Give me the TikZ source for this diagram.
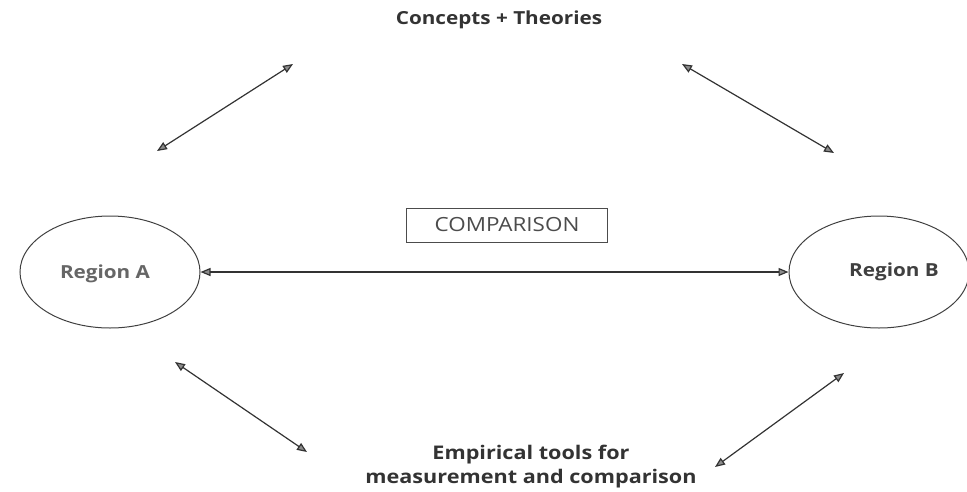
\documentclass[tikz,border=0pt]{standalone}
\usepackage{fontspec}
\setmainfont{Open Sans}[FakeStretch=1.15]
\usetikzlibrary{calc,arrows.meta,shapes.geometric}

\begin{document}
\begin{tikzpicture}[x = 1pt, y = -1pt,
        region/.style = {draw = black!75, line width = 1pt, ellipse, minimum width = 180pt, minimum height = 112pt, inner sep = 0pt},
        biarrow/.style = {draw = black!80, line width = 1.2pt, {Triangle[length = 10pt, width = 8pt, fill = black!45]}-{Triangle[length = 10pt, width = 8pt, fill = black!45]}},
        bigtext/.style = {font = \fontsize{18}{24}\selectfont\bfseries, text = black!80, align = center}]
        \useasboundingbox (0,0) rectangle (967,491);
        % regions
        \node[region] (regA) at (110,272) {};
        \node[bigtext, text = black!60] (regAtxt) at (105,274) {Region A};
        \node[region] (regB) at (879,272) {};
        \node[bigtext, text = black!75] (regBtxt) at (894,272) {Region B};
        % comparison
        \node[draw = black!70, line width = 1pt, minimum width = 201pt, minimum height = 34pt, font = \fontsize{19.5}{22}\selectfont, text = black!70] (cmp) at (507,225) {COMPARISON};
        \path[biarrow] (regA.east) to (regB.west);
        % theory and tools
        \node[bigtext] (conc) at (499,20) {Concepts + Theories};
        \node[bigtext, font = \fontsize{18.8}{24}\selectfont\bfseries] (emp) at (531,467) {Empirical tools for\\measurement and comparison};
        % arrow ends
        \coordinate (TL1) at (157,151);
        \coordinate (TL2) at (293,64);
        \coordinate (TR1) at (682,64);
        \coordinate (TR2) at (834,153);
        \coordinate (BL1) at (175,362);
        \coordinate (BL2) at (307,452);
        \coordinate (BR1) at (715,467);
        \coordinate (BR2) at (844,373);
        \path[biarrow] (TL1) to (TL2);
        \path[biarrow] (TR1) to (TR2);
        \path[biarrow] (BL1) to (BL2);
        \path[biarrow] (BR1) to (BR2);
    \end{tikzpicture}
\end{document}
